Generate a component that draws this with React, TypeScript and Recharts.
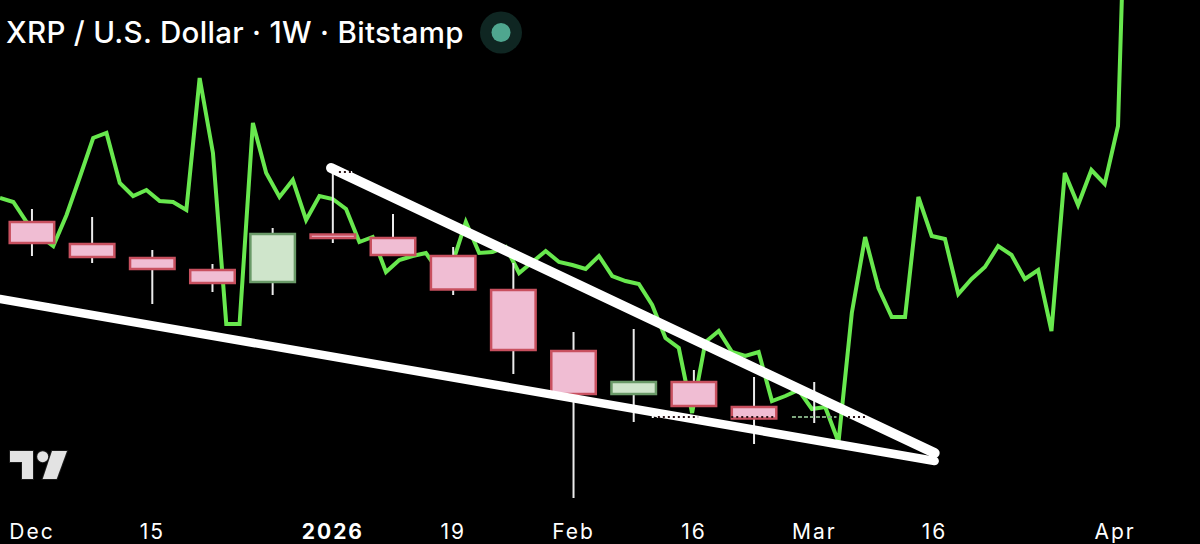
import React from 'react';
import { ComposedChart, Bar, Line, XAxis, YAxis } from 'recharts';

// weeks counted from Dec 1 2025
const weeks = [0, 1, 2, 3, 4, 5, 6, 7, 8, 9, 10, 11, 12, 13];
const opens = [2.188, 2.1, 2.044, 1.996, 1.948, 2.138, 2.124, 2.052, 1.916, 1.672, 1.5, 1.548, 1.448, 1.408];
const closes = [2.104, 2.048, 2.0, 1.944, 2.14, 2.124, 2.056, 1.918, 1.676, 1.5, 1.548, 1.452, 1.402, 1.404];
const highs = [2.24, 2.208, 2.076, 2.02, 2.164, 2.396, 2.22, 2.088, 2.024, 1.748, 1.76, 1.596, 1.568, 1.548];
const lows = [2.052, 2.024, 1.86, 1.908, 1.896, 2.104, 2.052, 1.896, 1.58, 1.084, 1.388, 1.452, 1.3, 1.384];

const tickWeeks = [0, 2, 5, 7, 9, 11, 13, 15, 18];
const tickLabels = ['Dec', '15', '2026', '19', 'Feb', '16', 'Mar', '16', 'Apr'];

// the hand-laid green overlay, evenly spaced samples
const overlay = [
  2.284, 2.268, 2.188, 2.132, 2.092, 2.216, 2.368, 2.524, 2.544, 2.344,
  2.292, 2.316, 2.272, 2.268, 2.236, 2.764, 2.464, 1.78, 1.78, 2.584,
  2.384, 2.288, 2.356, 2.196, 2.292, 2.28, 2.24, 2.108, 2.128, 1.988,
  2.036, 2.052, 2.064, 1.988, 2.024, 2.188, 2.064, 2.068, 2.088, 1.984,
  2.028, 2.072, 2.028, 2.016, 2.0, 2.052, 1.972, 1.952, 1.94, 1.856,
  1.724, 1.684, 1.424, 1.708, 1.752, 1.668, 1.652, 1.668, 1.472, 1.492,
  1.516, 1.44, 1.448, 1.308, 1.824, 2.128, 1.924, 1.808, 1.808, 2.288,
  2.132, 2.12, 1.9, 1.96, 2.008, 2.092, 2.056, 1.96, 1.996, 1.752,
  2.384, 2.256, 2.396, 2.34, 2.572, 4.336,
];

const upperTrend = [{ week: 4.97, price: 2.404 }, { week: 15, price: 1.264 }];
const lowerTrend = [{ week: -0.532, price: 1.88 }, { week: 15, price: 1.232 }];

// dotted price line pieces: white on the black background, dark over the white trend lines and candle edge
const whiteDots = [
  [{ week: 5.04, price: 2.388 }, { week: 5.32, price: 2.388 }],
  [{ week: 10.3, price: 1.408 }, { week: 10.6, price: 1.408 }],
];
const darkDots = [
  [{ week: 5.1, price: 2.388 }, { week: 5.3, price: 2.388 }],
  [{ week: 10.4, price: 1.408 }, { week: 11.07, price: 1.408 }],
  [{ week: 11.62, price: 1.408 }, { week: 12.36, price: 1.408 }],
  [{ week: 13.56, price: 1.408 }, { week: 13.89, price: 1.408 }],
];

const candles = weeks.map((week, i) => ({
  week,
  open: opens[i],
  close: closes[i],
  high: highs[i],
  low: lows[i],
  body: [Math.min(opens[i], closes[i]), Math.max(opens[i], closes[i])],
}));
const overlayData = overlay.map((price, idx) => ({ idx, price }));

const BODY_WIDTH = 44.5;

const Candle = (props: any) => {
  const { x, y, width, height, payload } = props;
  const cx = x + width / 2;
  const left = cx - BODY_WIDTH / 2;
  const top = payload.body[1];
  const perUnit = height / (payload.body[1] - payload.body[0]);
  const highY = y - (payload.high - top) * perUnit;
  const lowY = y + (top - payload.low) * perUnit;
  const up = payload.close > payload.open;
  const doji = height < 2;
  return (
    <g>
      <line x1={cx} x2={cx} y1={highY} y2={lowY} stroke="#ececec" strokeWidth={2} />
      {doji ? (
        <line x1={left} x2={left + BODY_WIDTH} y1={y} y2={y} stroke="#7fa77f" strokeWidth={2} strokeDasharray="4 2" />
      ) : (
        <rect
          x={left}
          y={y}
          width={BODY_WIDTH}
          height={height}
          fill={up ? '#cfe5cb' : '#f0bdd3'}
          stroke={up ? '#6a9a68' : '#c8505f'}
          strokeWidth={2.5}
        />
      )}
    </g>
  );
};

const DateTick = (props: any) => {
  const { x, payload } = props;
  const i = tickWeeks.indexOf(payload.value);
  const label = tickLabels[i];
  return (
    <text
      x={x}
      y={539}
      textAnchor="middle"
      fill="#ffffff"
      fontSize={21}
      letterSpacing={2}
      fontWeight={label === '2026' ? 700 : 400}
      fontFamily="Inter, Roboto, sans-serif"
    >
      {label}
    </text>
  );
};

const App = () => {
  return (
    <div style={{ position: 'absolute', left: 0, top: 0, width: 1200, height: 544, background: '#000', overflow: 'hidden' }}>
      <ComposedChart width={1200} height={544} data={candles} margin={{ top: 0, right: 0, bottom: -30, left: 0 }}>
        <XAxis
          xAxisId="weeks"
          dataKey="week"
          type="number"
          domain={[-0.532, 19.41]}
          ticks={tickWeeks}
          interval={0}
          height={30}
          axisLine={false}
          tickLine={false}
          tick={<DateTick />}
          allowDataOverflow
        />
        <XAxis xAxisId="samples" dataKey="idx" type="number" domain={[0, 90.16]} hide allowDataOverflow />
        <YAxis type="number" domain={[0.9, 3.076]} hide allowDataOverflow />

        <Line
          xAxisId="samples"
          data={overlayData}
          dataKey="price"
          stroke="#68e84e"
          strokeWidth={4}
          dot={false}
          activeDot={false}
          isAnimationActive={false}
          zIndex={100}
        />
        <Bar xAxisId="weeks" dataKey="body" barSize={45} shape={<Candle />} isAnimationActive={false} zIndex={200} />
        {whiteDots.map((run, i) => (
          <Line
            key={`w${i}`}
            xAxisId="weeks"
            data={run}
            dataKey="price"
            stroke="#ffffff"
            strokeWidth={2}
            strokeDasharray="2 3"
            dot={false}
            activeDot={false}
            isAnimationActive={false}
            zIndex={300}
          />
        ))}
        <Line xAxisId="weeks" data={upperTrend} dataKey="price" stroke="#ffffff" strokeWidth={10} strokeLinecap="round" dot={false} activeDot={false} isAnimationActive={false} zIndex={400} />
        <Line xAxisId="weeks" data={lowerTrend} dataKey="price" stroke="#ffffff" strokeWidth={8.5} strokeLinecap="round" dot={false} activeDot={false} isAnimationActive={false} zIndex={400} />
        {darkDots.map((run, i) => (
          <Line
            key={`d${i}`}
            xAxisId="weeks"
            data={run}
            dataKey="price"
            stroke="#2a1216"
            strokeWidth={2}
            strokeDasharray="2 3"
            dot={false}
            activeDot={false}
            isAnimationActive={false}
            zIndex={500}
          />
        ))}
      </ComposedChart>

      <div style={{ position: 'absolute', left: 6, top: 14, color: '#fff', fontFamily: 'Inter, Roboto, sans-serif', fontSize: 29.5, fontWeight: 500, letterSpacing: 0.3, lineHeight: '36px', whiteSpace: 'nowrap' }}>
        XRP / U.S. Dollar · 1W · Bitstamp
      </div>
      <svg style={{ position: 'absolute', left: 0, top: 0, pointerEvents: 'none' }} width={1200} height={544}>
        <circle cx={501} cy={32.5} r={21} fill="#0f2622" />
        <circle cx={501} cy={32.5} r={9.5} fill="#4fa68f" />
        <g fill="#e3e3e3" stroke="#1c1c1c" strokeWidth={2} paintOrder="stroke">
          <polygon points="10,451 33,451 33,479 22,479 22,462 10,462" />
          <circle cx={42.7} cy={456.7} r={5.5} />
          <polygon points="52,451 67,451 56.7,479 42.7,479" />
        </g>
      </svg>
    </div>
  );
};

export default App;
